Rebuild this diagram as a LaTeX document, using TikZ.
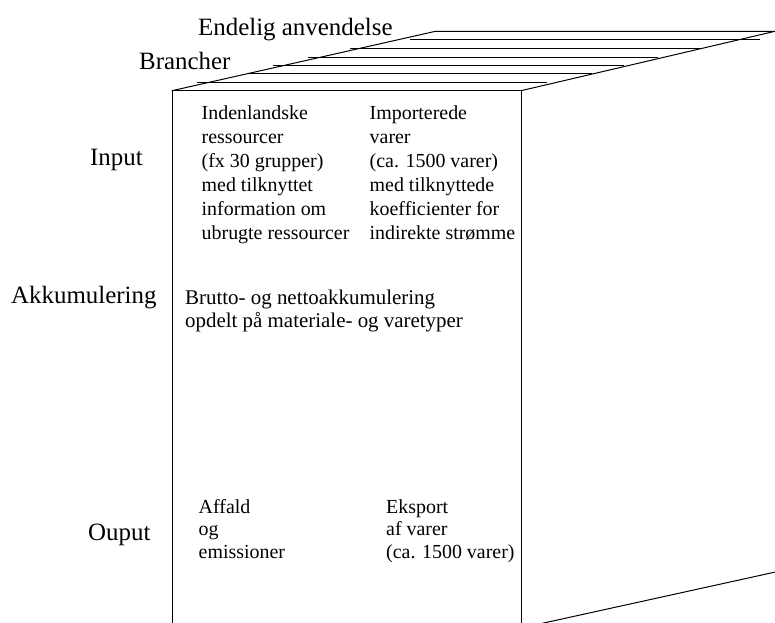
\documentclass[tikz,border=0pt]{standalone}
\usepackage{fontspec}
\setmainfont{Liberation Serif}
\begin{document}
\begin{tikzpicture}[x=1bp,y=-1bp,
  edge/.style={line width=1bp, black, line cap=round},
  rule/.style={line width=1bp, black},
  heading/.style={font=\fontsize{25}{30}\selectfont, anchor=base west, inner sep=0pt},
  cell/.style={font=\fontsize{20}{24}\selectfont, anchor=base west, inner sep=0pt, align=left},
  lowcell/.style={cell, font=\fontsize{20}{22.5}\selectfont},
  midcell/.style={cell, font=\fontsize{21}{23}\selectfont},
]
\useasboundingbox (0,0) rectangle (775,623);
\begin{scope}
\clip (0,0) rectangle (775,623);

% corners of the block
\coordinate (ftl) at (172,90.7);
\coordinate (ftr) at (521,90.7);
\coordinate (fbl) at (172,628);
\coordinate (fbr) at (521,628);
\coordinate (btl) at (435.5,31.3);
\coordinate (btr) at (775,31.3);
\coordinate (bbr) at (805,565.5);

% front face and top face outline
\draw[edge] (fbl) -- (ftl) -- (ftr) -- (fbr);
\draw[edge] (ftl) -- (btl) -- (btr) -- (ftr);
% lower edge of the side face
\draw[edge] (fbr) -- (bbr);

% rows of the top face
\foreach \yy/\xa/\xb in {40.0/410/760, 48.7/350/701, 57.3/308/658,
                          65.7/273/624, 74.0/248/592, 82.3/197/547}{
  \coordinate (ra) at (\xa,\yy);
  \coordinate (rb) at (\xb,\yy);
  \draw[rule] (ra) -- (rb);
}
\end{scope}

% axis labels
\node[heading] (endelig) at (198,35.5) {Endelig anvendelse};
\node[heading] (brancher) at (139,70) {Brancher};
\node[heading] (input) at (90,166) {Input};
\node[heading] (akk) at (11,303) {Akkumulering};
\node[heading] (output) at (88,540) {Ouput};

% contents of the front face (placed by the baseline of their last line)
\node[cell] (indl) at (201.5,239.5) {Indenlandske\\ressourcer\\(fx 30 grupper)\\med tilknyttet\\information om\\ubrugte ressourcer};
\node[cell] (impo) at (369.5,239.5) {Importerede\\varer\\(ca. 1500 varer)\\med tilknyttede\\koefficienter for\\indirekte strømme};
\node[midcell] (brutto) at (185,327.5) {Brutto- og nettoakkumulering\\opdelt på materiale- og varetyper};
\node[lowcell] (affald) at (198.5,558.3) {Affald\\og\\emissioner};
\node[lowcell] (eksport) at (386,558.3) {Eksport\\af varer\\(ca. 1500 varer)};
\end{tikzpicture}
\end{document}
